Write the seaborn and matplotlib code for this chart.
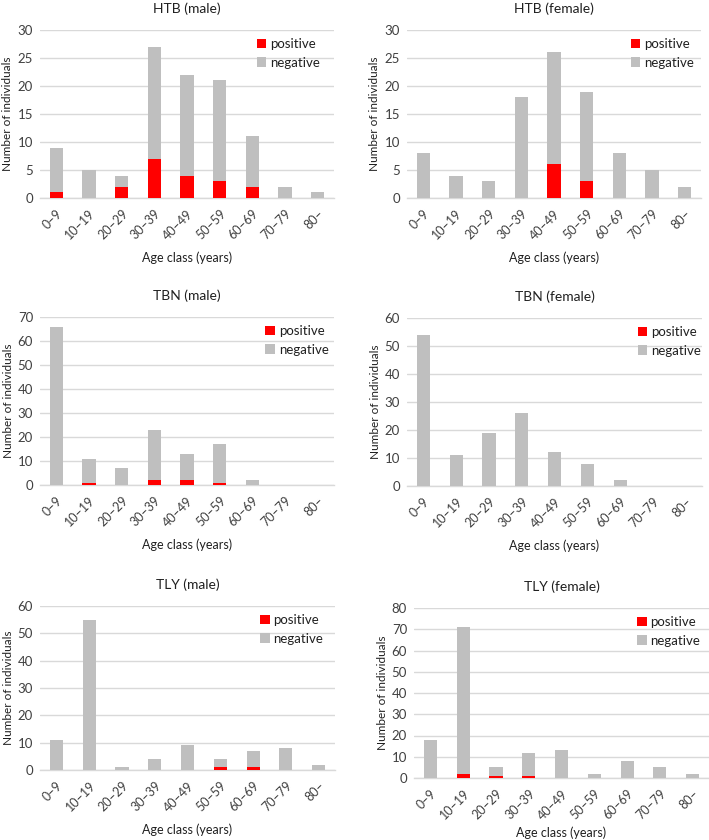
import numpy as np
import pandas as pd
import matplotlib
matplotlib.use("Agg")
import matplotlib.pyplot as plt
from matplotlib.patches import Patch
import seaborn as sns

age_classes = ["0\u20139", "10\u201319", "20\u201329", "30\u201339", "40\u201349",
               "50\u201359", "60\u201369", "70\u201379", "80\u2013"]

# totals (positive + negative) and positives per age class
htb_male_total = [9, 5, 4, 27, 22, 21, 11, 2, 1]
htb_male_pos = [1, 0, 2, 7, 4, 3, 2, 0, 0]
htb_female_total = [8, 4, 3, 18, 26, 19, 8, 5, 2]
htb_female_pos = [0, 0, 0, 0, 6, 3, 0, 0, 0]
tbn_male_total = [66, 11, 7, 23, 13, 17, 2, 0, 0]
tbn_male_pos = [0, 1, 0, 2, 2, 1, 0, 0, 0]
tbn_female_total = [54, 11, 19, 26, 12, 8, 2, 0, 0]
tbn_female_pos = [0, 0, 0, 0, 0, 0, 0, 0, 0]
tly_male_total = [11, 55, 1, 4, 9, 4, 7, 8, 2]
tly_male_pos = [0, 0, 0, 0, 0, 1, 1, 0, 0]
tly_female_total = [18, 71, 5, 12, 13, 2, 8, 5, 2]
tly_female_pos = [0, 2, 1, 1, 0, 0, 0, 0, 0]

sns.set_theme(style="white")
plt.rcParams['font.family'] = ['Lato', 'DejaVu Sans']

GREY = "#BFBFBF"
RED = "#FF0000"
TXT = "#404040"

W, H = 709, 840
fig = plt.figure(figsize=(W / 100, H / 100), dpi=100, facecolor="white")

# title, totals, positives, ymax, step, pixel box (left, right, top, bottom), legend x, xlabel pad
panels = [
    ("HTB (male)", htb_male_total, htb_male_pos, 30, 5, 40, 334, 30, 198, 0.72, 7),
    ("HTB (female)", htb_female_total, htb_female_pos, 30, 5, 407, 701, 30, 198, 0.745, 7),
    ("TBN (male)", tbn_male_total, tbn_male_pos, 70, 10, 40, 334, 317, 485, 0.75, 7),
    ("TBN (female)", tbn_female_total, tbn_female_pos, 60, 10, 407, 702, 318, 486, 0.765, 7),
    ("TLY (male)", tly_male_total, tly_male_pos, 60, 10, 40, 335, 606, 770, 0.73, 7),
    ("TLY (female)", tly_female_total, tly_female_pos, 80, 10, 414, 709, 608, 778, 0.74, 3),
]

for title, total, pos, ymax, step, l, r, t, b, lx, xpad in panels:
    ax = fig.add_axes([l / W, 1 - b / H, (r - l) / W, (b - t) / H])
    df = pd.DataFrame({"age": age_classes, "total": total, "positive": pos})
    sns.barplot(data=df, x="age", y="total", color=GREY, width=0.4,
                saturation=1, linewidth=0, edgecolor="none", ax=ax, zorder=2)
    sns.barplot(data=df, x="age", y="positive", color=RED, width=0.4,
                saturation=1, linewidth=0, edgecolor="none", ax=ax, zorder=3)
    ax.set_xlim(-0.5, 8.5)
    ax.set_ylim(0, ymax)
    ax.set_yticks(np.arange(0, ymax + 1, step))
    ax.yaxis.grid(True, color="#D9D9D9", linewidth=1.0, zorder=0)
    ax.xaxis.grid(False)
    for s in ["top", "right", "left"]:
        ax.spines[s].set_visible(False)
    ax.spines["bottom"].set_color("#D9D9D9")
    ax.spines["bottom"].set_linewidth(1.0)
    ax.spines["bottom"].set_zorder(1)
    ax.tick_params(axis="y", length=0, labelsize=9.5, colors=TXT, pad=5)
    ax.tick_params(axis="x", length=0, labelsize=9, colors=TXT, pad=7)
    plt.setp(ax.get_xticklabels(), rotation=45, ha="right",
             rotation_mode="anchor")
    ax.set_title(title, fontsize=10, color="#202020", pad=12)
    ax.set_xlabel("Age class (years)", fontsize=9, color="#202020", labelpad=xpad)
    ax.set_ylabel("Number of individuals", fontsize=8.5, color="#202020",
                  labelpad=3)
    handles = [Patch(facecolor=RED, edgecolor="none", label="positive"),
               Patch(facecolor=GREY, edgecolor="none", label="negative")]
    ax.legend(handles=handles, loc="upper left", bbox_to_anchor=(lx - 0.01, 1.0),
              frameon=False, fontsize=9.5, handlelength=0.7, handleheight=0.7,
              handletextpad=0.3, borderaxespad=0.2, labelspacing=0.5,
              labelcolor="#202020")

fig.savefig("out.png", dpi=100, facecolor="white")
